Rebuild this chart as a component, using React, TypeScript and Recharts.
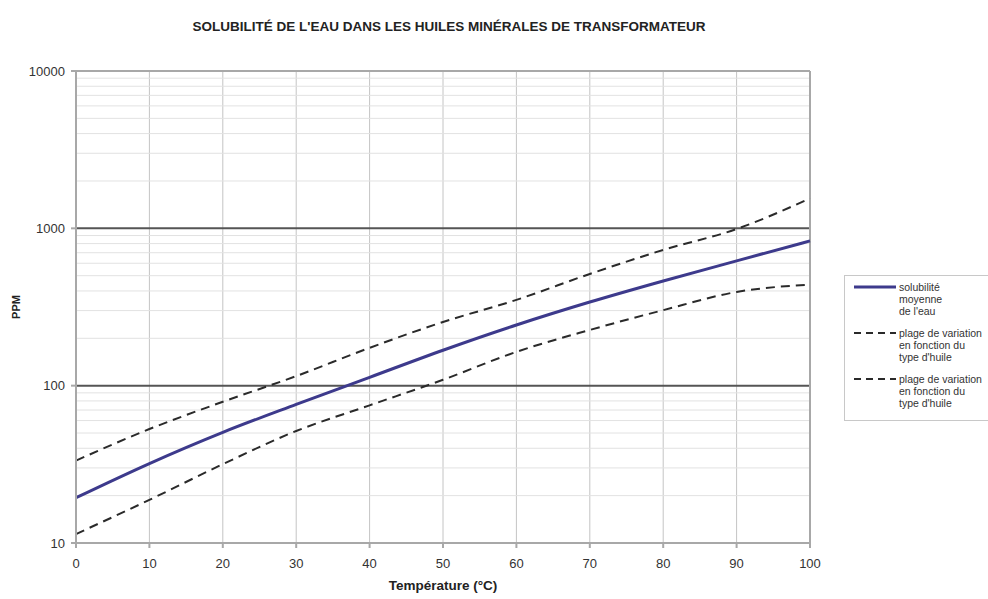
import React from 'react';
import {
    LineChart,
    Line,
    XAxis,
    YAxis,
    CartesianGrid,
    ReferenceLine,
} from 'recharts';

// temperatures (°C)
const temperatures = [0, 10, 20, 30, 40, 50, 60, 70, 80, 90, 100];
// water solubility (ppm)
const meanPpm = [19.4, 32, 50.5, 76, 113, 168, 243, 340, 463, 621, 832];
const upperPpm = [33.4, 53, 79, 115, 174, 254, 351, 513, 729, 990, 1550];
const lowerPpm = [11.4, 18.8, 31.7, 51.5, 75, 109, 164, 226, 302, 394, 439];

const xTicks = [0, 10, 20, 30, 40, 50, 60, 70, 80, 90, 100];
const yTicks = [10, 100, 1000, 10000];
const minorY = [
    20, 30, 40, 50, 60, 70, 80, 90,
    200, 300, 400, 500, 600, 700, 800, 900,
    2000, 3000, 4000, 5000, 6000, 7000, 8000, 9000,
];
const majorY = [100, 1000];

const series = [
    { key: 'mean', name: "solubilité\nmoyenne\nde l'eau", color: '#3d3a8c', width: 3, dash: undefined },
    { key: 'upper', name: "plage de variation\nen fonction du\ntype d'huile", color: '#2a2a2a', width: 2, dash: '9 6' },
    { key: 'lower', name: "plage de variation\nen fonction du\ntype d'huile", color: '#2a2a2a', width: 2, dash: '9 6' },
];

const data = temperatures.map((t, i) => ({
    t,
    mean: meanPpm[i],
    upper: upperPpm[i],
    lower: lowerPpm[i],
}));

const FONT = "Arial, 'Liberation Sans', sans-serif";

const LegendBox = () => (
    <div
        style={{
            position: 'absolute',
            left: 844,
            top: 275,
            width: 160,
            height: 146,
            boxSizing: 'border-box',
            border: '1px solid #c8c8c8',
            padding: '5px 0 0 4px',
            fontFamily: FONT,
            fontSize: 10.5,
            lineHeight: '12px',
            color: '#333',
            background: '#fff',
        }}
    >
        {series.map(s => (
            <div key={s.key} style={{ display: 'flex', marginBottom: 10 }}>
                <svg width={48} height={12} style={{ flex: 'none' }}>
                    <line
                        x1={5}
                        x2={47}
                        y1={6}
                        y2={6}
                        stroke={s.color}
                        strokeWidth={s.width}
                        strokeDasharray={s.dash ? '7 5' : undefined}
                    />
                </svg>
                <div style={{ whiteSpace: 'pre', marginLeft: 2 }}>{s.name}</div>
            </div>
        ))}
    </div>
);

export default function App() {
    return (
        <div style={{ position: 'absolute', left: 0, top: 0, width: 988, height: 599, background: '#fff', overflow: 'hidden' }}>
            <div
                style={{
                    position: 'absolute',
                    top: 19,
                    left: 0,
                    width: 898,
                    textAlign: 'center',
                    fontFamily: FONT,
                    fontWeight: 'bold',
                    fontSize: 13.5,
                    color: '#222',
                }}
            >
                SOLUBILITÉ DE L'EAU DANS LES HUILES MINÉRALES DE TRANSFORMATEUR
            </div>
            <LineChart
                width={988}
                height={599}
                data={data}
                margin={{ top: 71, right: 178, bottom: 0, left: 0 }}
            >
                <CartesianGrid horizontal={false} stroke="#c4c4c4" />
                {minorY.map(v => (
                    <ReferenceLine key={v} y={v} stroke="#e2e2e2" strokeWidth={1} />
                ))}
                {majorY.map(v => (
                    <ReferenceLine key={v} y={v} stroke="#555" strokeWidth={2} />
                ))}
                <ReferenceLine y={10000} stroke="#a8a8a8" strokeWidth={2} />
                <ReferenceLine x={100} stroke="#a8a8a8" strokeWidth={2} />
                <XAxis
                    dataKey="t"
                    type="number"
                    domain={[0, 100]}
                    ticks={xTicks}
                    height={56}
                    stroke="#a8a8a8"
                    strokeWidth={2}
                    tickSize={5}
                    tickMargin={11}
                    tick={{ fill: '#333', fontSize: 13, fontFamily: FONT }}
                    label={{
                        value: 'Température (°C)',
                        position: 'insideBottom',
                        offset: 9,
                        style: { fill: '#222', fontSize: 13.5, fontWeight: 'bold', fontFamily: FONT },
                    }}
                />
                <YAxis
                    scale="log"
                    domain={[10, 10000]}
                    ticks={yTicks}
                    allowDataOverflow
                    width={76}
                    stroke="#a8a8a8"
                    strokeWidth={2}
                    tickSize={5}
                    tickMargin={6}
                    tick={{ fill: '#333', fontSize: 13, fontFamily: FONT }}
                    label={{
                        value: 'PPM',
                        angle: -90,
                        position: 'insideLeft',
                        offset: 16,
                        style: { fill: '#222', fontSize: 11, fontWeight: 'bold', fontFamily: FONT, textAnchor: 'middle' },
                    }}
                />
                {series.map(s => (
                    <Line
                        key={s.key}
                        type="monotone"
                        dataKey={s.key}
                        name={s.name}
                        stroke={s.color}
                        strokeWidth={s.width}
                        strokeDasharray={s.dash}
                        dot={false}
                        isAnimationActive={false}
                    />
                ))}
            </LineChart>
            <LegendBox />
        </div>
    );
}
